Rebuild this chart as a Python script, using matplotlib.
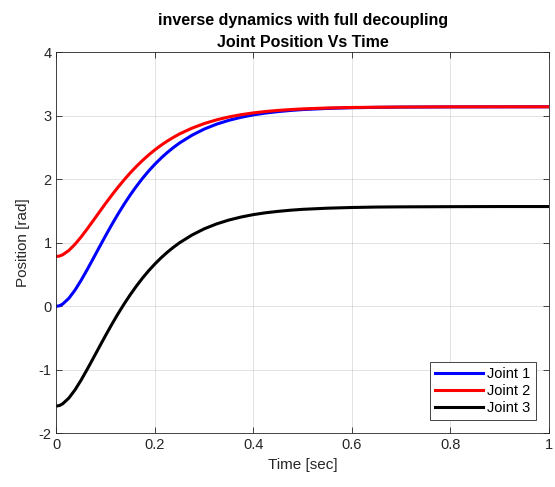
import matplotlib
matplotlib.use("Agg")
import matplotlib.pyplot as plt

plt.rcParams['font.family'] = ['Liberation Sans', 'DejaVu Sans']
plt.rcParams['axes.unicode_minus'] = False

time = [0, 0.00625, 0.0125, 0.025, 0.0375, 0.05, 0.0625, 0.075, 0.0875, 0.1,
        0.1125, 0.125, 0.1375, 0.15, 0.1625, 0.175, 0.1875, 0.2, 0.2125, 0.225,
        0.2375, 0.25, 0.275, 0.3, 0.325, 0.35, 0.375, 0.4, 0.425, 0.45,
        0.475, 0.5, 0.55, 0.6, 0.65, 0.7, 0.8, 0.9, 1.0]
joint1 = [0.0, 0.009, 0.035, 0.125, 0.254, 0.409, 0.580, 0.758, 0.938, 1.116,
          1.289, 1.454, 1.610, 1.756, 1.892, 2.018, 2.134, 2.239, 2.335, 2.422,
          2.501, 2.572, 2.693, 2.791, 2.868, 2.929, 2.977, 3.015, 3.044, 3.066,
          3.084, 3.098, 3.116, 3.127, 3.133, 3.137, 3.140, 3.141, 3.142]
joint2 = [0.785, 0.792, 0.811, 0.879, 0.976, 1.092, 1.220, 1.354, 1.489, 1.623,
          1.752, 1.876, 1.993, 2.103, 2.205, 2.299, 2.386, 2.465, 2.537, 2.602,
          2.661, 2.715, 2.805, 2.878, 2.936, 2.982, 3.018, 3.046, 3.068, 3.085,
          3.098, 3.109, 3.123, 3.131, 3.135, 3.138, 3.141, 3.142, 3.142]
joint3 = [-1.571, -1.562, -1.536, -1.446, -1.317, -1.162, -0.991, -0.813, -0.633, -0.455,
          -0.282, -0.117, 0.039, 0.185, 0.321, 0.447, 0.563, 0.668, 0.764, 0.851,
          0.930, 1.001, 1.122, 1.220, 1.297, 1.358, 1.406, 1.444, 1.473, 1.495,
          1.513, 1.527, 1.545, 1.556, 1.563, 1.566, 1.569, 1.571, 1.571]
labels = ['Joint 1', 'Joint 2', 'Joint 3']
colors = ['#0000ff', '#ff0000', '#000000']
xticks = [0, 0.2, 0.4, 0.6, 0.8, 1]
xticklabels = ['0', '0.2', '0.4', '0.6', '0.8', '1']
yticks = [-2, -1, 0, 1, 2, 3, 4]

fig = plt.figure(figsize=(5.55, 4.87), dpi=100)
ax = fig.add_axes([0.1018, 0.1103, 0.8872, 0.7823])

for y, lab, c in zip([joint1, joint2, joint3], labels, colors):
    ax.plot(time, y, color=c, lw=2.2, label=lab, solid_joinstyle='round')

ax.set_xlim(0, 1)
ax.set_ylim(-2, 4)
ax.set_xticks(xticks)
ax.set_xticklabels(xticklabels)
ax.set_yticks(yticks)
ax.grid(True, color='#262626', alpha=0.15, lw=0.6)
ax.tick_params(direction='in', top=True, right=True, labelsize=10.5,
               colors='#262626', length=4, width=0.6)
for s in ax.spines.values():
    s.set_color('#262626')
    s.set_linewidth(0.6)

ax.set_xlabel('Time [sec]', fontsize=11, color='#262626')
ax.set_ylabel('Position [rad]', fontsize=11, color='#262626', labelpad=6)
ax.set_title('inverse dynamics with full decoupling\nJoint Position Vs Time',
             fontsize=11.5, fontweight='bold', linespacing=1.55, pad=4)

leg = ax.legend(loc='lower right', fontsize=10.5, frameon=True, fancybox=False,
                edgecolor='#262626', framealpha=1, borderaxespad=0.9,
                handlelength=3.3, handletextpad=0.3, borderpad=0.35, labelspacing=0.2)
leg.get_frame().set_linewidth(0.6)

fig.savefig('out.png', dpi=100)
